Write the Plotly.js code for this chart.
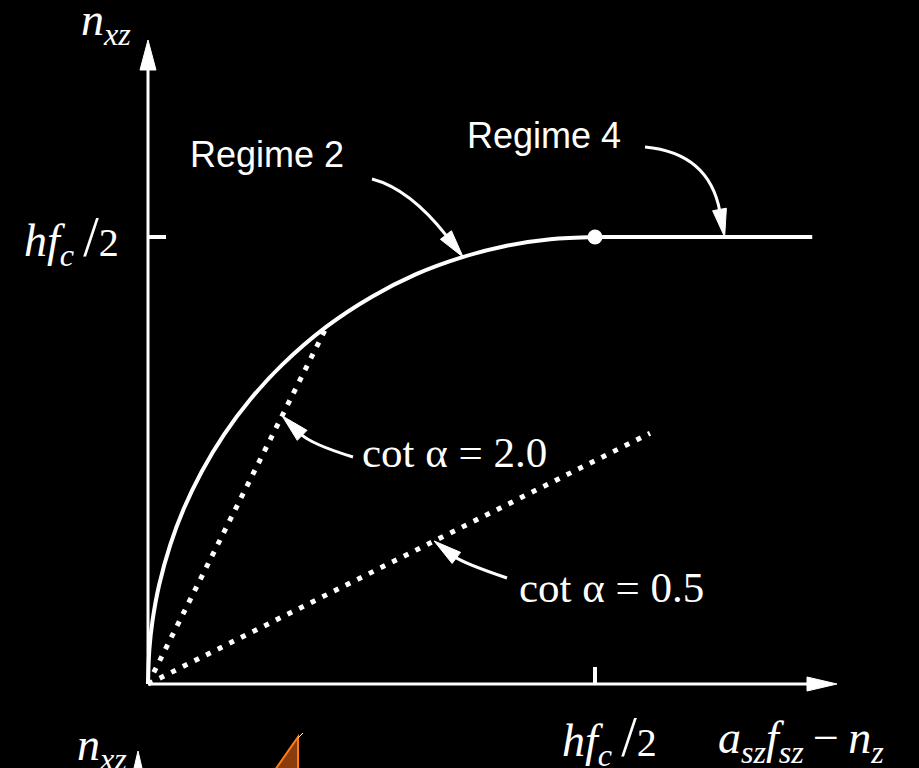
<!DOCTYPE html>
<html>
<head>
<meta charset="utf-8">
<script src="https://cdn.plot.ly/plotly-3.0.1.min.js"></script>
<style>
  html, body { margin: 0; padding: 0; background: #000; }
  #chart { width: 919px; height: 768px; }
</style>
</head>
<body>
<div id="chart"></div>
<script>
// Shear flow n_xz against a_sz·f_sz − n_z, both in units of h·fc/2.

// Regime 2 envelope (concrete crushing governs)
const regime2X = [0, 0.003, 0.01, 0.025, 0.05, 0.08, 0.12, 0.17, 0.23, 0.30, 0.40, 0.50, 0.60, 0.70, 0.80, 0.90, 1.00];
const regime2Y = [0, 0.077, 0.141, 0.222, 0.312, 0.392, 0.475, 0.558, 0.638, 0.714, 0.800, 0.866, 0.917, 0.954, 0.980, 0.995, 1.00];

// Regime 4 plateau
const regime4X = [1.00, 1.486];
const regime4Y = [1.00, 1.00];

// Boundary between the two regimes
const transitionX = [1.00];
const transitionY = [1.00];

// Fixed compression-field inclinations
const cot20X = [0, 0.40];
const cot20Y = [0, 0.80];
const cot05X = [0, 1.123];
const cot05Y = [0, 0.561];

// Axis tick and labels
const tickValue = 1.0;
const tickLabel = '<i>hf</i><sub><i>c</i></sub>\u2009<span style="font-size:56px">/</span><span style="font-size:40px">2</span>';
const xTitle = '<i>a</i><sub><i>sz</i></sub><i>f</i><sub><i>sz</i></sub>\u2009−\u2009<i>n</i><sub><i>z</i></sub>';
const yTitle = '<i>n</i><sub><i>xz</i></sub>';
const regimeLabels = ['Regime 2', 'Regime 4'];
const cotLabels = ['cot α = 2.0', 'cot α = 0.5'];

// ---- page frame (pixels) ----
const W = 919, H = 768;
const X0 = 148, Y0 = 684, UNIT = 447;
const dx = p => (p - X0) / UNIT;
const dy = p => (Y0 - p) / UNIT;
const px = v => X0 + v * UNIT;
const py = v => Y0 - v * UNIT;

const WHITE = '#ffffff';
const SERIF = 'Liberation Serif, Times New Roman, serif';
const SANS = 'Liberation Sans, Arial, sans-serif';

function pathOf(points) {
  return points.map((p, i) => (i ? 'L' : 'M') + dx(p[0]) + ',' + dy(p[1])).join(' ') + ' Z';
}

// filled triangle with its point at tip, aimed along (ux, uy)
function headShape(tip, ux, uy, len, hw, color) {
  const n = Math.hypot(ux, uy); ux /= n; uy /= n;
  const bx = tip[0] - ux * len, by = tip[1] - uy * len;
  return {
    type: 'path', xref: 'x', yref: 'y',
    path: pathOf([tip, [bx - uy * hw, by + ux * hw], [bx + uy * hw, by - ux * hw]]),
    fillcolor: color || WHITE, line: { color: color || WHITE, width: 1 }
  };
}

// curved leader: quadratic from tail through ctrl, ending in an arrowhead at tip
function curvedArrow(tail, ctrl, tip) {
  const len = 28, hw = 7;
  const ux = tip[0] - ctrl[0], uy = tip[1] - ctrl[1];
  const n = Math.hypot(ux, uy);
  const base = [tip[0] - ux / n * (len - 2), tip[1] - uy / n * (len - 2)];
  return [
    {
      type: 'path', xref: 'x', yref: 'y',
      path: 'M' + dx(tail[0]) + ',' + dy(tail[1]) + ' Q' + dx(ctrl[0]) + ',' + dy(ctrl[1]) + ' ' + dx(base[0]) + ',' + dy(base[1]),
      line: { color: WHITE, width: 3 }
    },
    headShape(tip, ux, uy, len, hw)
  ];
}

const shapes = [
  // axes
  { type: 'line', xref: 'x', yref: 'y', x0: 0, y0: 0, x1: dx(810), y1: 0, line: { color: WHITE, width: 3 } },
  { type: 'line', xref: 'x', yref: 'y', x0: 0, y0: 0, x1: 0, y1: dy(68), line: { color: WHITE, width: 3 } },
  headShape([837, Y0], 1, 0, 30, 7),
  headShape([X0, 40], 0, -1, 30, 8),
  // ticks at h·fc/2
  { type: 'line', xref: 'x', yref: 'y', x0: 0, y0: tickValue, x1: dx(166), y1: tickValue, line: { color: WHITE, width: 4 } },
  { type: 'line', xref: 'x', yref: 'y', x0: tickValue, y0: 0, x1: tickValue, y1: dy(667), line: { color: WHITE, width: 4 } },
  // leaders
  ...curvedArrow([372, 179], [410, 189], [px(0.705), py(0.955)]),
  ...curvedArrow([645, 147], [709, 153], [px(1.29), py(1.0)]),
  ...curvedArrow([353, 457], [311, 444], [px(0.30), py(0.60)]),
  ...curvedArrow([507, 578], [463, 563], [px(0.64), py(0.32)]),
  // start of the next sketch along the bottom edge
  headShape([138, 751], 0, -1, 30, 7),
  {
    type: 'path', xref: 'x', yref: 'y',
    path: pathOf([[298, 737], [298, 800], [254, 800]]),
    fillcolor: '#8a3c0c', line: { color: '#ff7a1a', width: 2 }
  },
  { type: 'line', xref: 'x', yref: 'y', x0: dx(298), y0: dy(738), x1: dx(303), y1: dy(733), line: { color: WHITE, width: 1 } }
];

function label(text, x, y, size, family, xanchor) {
  return {
    text: text, xref: 'paper', yref: 'paper', x: x / W, y: 1 - y / H,
    xanchor: xanchor || 'left', yanchor: 'middle', showarrow: false,
    font: { family: family, size: size, color: WHITE }
  };
}

const annotations = [
  label(yTitle, 79, 23, 46, SERIF),
  label(tickLabel, 22, 239, 46, SERIF),
  label(tickLabel, 560, 739, 46, SERIF),
  label(xTitle, 716, 741, 46, SERIF),
  label(regimeLabels[0], 188, 155, 36, SANS),
  label(regimeLabels[1], 465, 135, 36, SANS),
  label(cotLabels[0], 360, 452, 43, SERIF),
  label(cotLabels[1], 517, 587, 43, SERIF),
  label(yTitle, 75, 748, 46, SERIF)
];

const traces = [
  { x: regime2X, y: regime2Y, mode: 'lines', line: { color: WHITE, width: 4, shape: 'spline', smoothing: 1 }, hoverinfo: 'skip' },
  { x: regime4X, y: regime4Y, mode: 'lines', line: { color: WHITE, width: 4 }, hoverinfo: 'skip' },
  { x: cot20X, y: cot20Y, mode: 'lines', line: { color: WHITE, width: 5, dash: '5px,8px' }, hoverinfo: 'skip' },
  { x: cot05X, y: cot05Y, mode: 'lines', line: { color: WHITE, width: 5, dash: '5px,8px' }, hoverinfo: 'skip' },
  { x: transitionX, y: transitionY, mode: 'markers', marker: { color: WHITE, size: 15 }, hoverinfo: 'skip' }
];

const layout = {
  width: W, height: H,
  margin: { l: 0, r: 0, t: 0, b: 0 },
  paper_bgcolor: '#000', plot_bgcolor: '#000',
  showlegend: false,
  xaxis: { range: [dx(0), dx(W)], visible: false, fixedrange: true },
  yaxis: { range: [dy(H), dy(0)], visible: false, fixedrange: true },
  shapes: shapes,
  annotations: annotations
};

Plotly.newPlot('chart', traces, layout, { displayModeBar: false, staticPlot: true });
</script>
</body>
</html>
